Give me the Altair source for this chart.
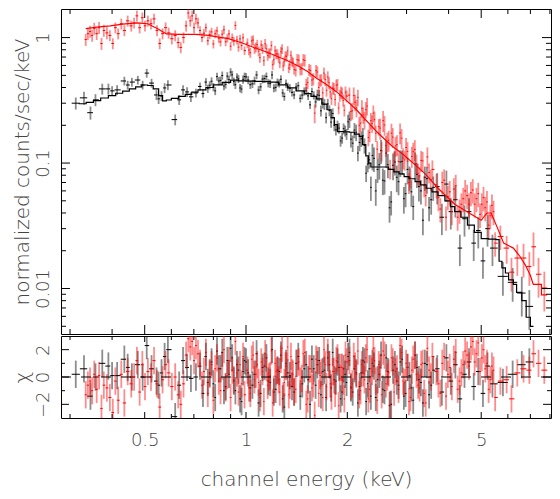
import numpy as np
import pandas as pd
import altair as alt

# ---------------- black spectrum ----------------
blk_energy = [0.312, 0.330, 0.345, 0.357, 0.374, 0.390, 0.400, 0.414, 0.435, 0.445, 0.458, 0.477, 0.493,
              0.507, 0.524, 0.542, 0.550, 0.561, 0.573, 0.586, 0.616, 0.633, 0.650, 0.668, 0.686, 0.710,
              0.73, 0.745, 0.76, 0.78, 0.80, 0.82, 0.84, 0.86, 0.88, 0.90, 0.92, 0.94, 0.96, 0.98, 1.00,
              1.03, 1.06, 1.09, 1.12, 1.15, 1.18, 1.21, 1.24, 1.27, 1.30, 1.33, 1.37, 1.41, 1.45, 1.49,
              1.53, 1.57,
              1.61, 1.65, 1.69, 1.73, 1.77, 1.81, 1.85, 1.89, 1.93, 1.97, 2.01, 2.05, 2.10, 2.15, 2.20,
              2.25, 2.30, 2.35, 2.40, 2.46, 2.52, 2.58, 2.64, 2.70, 2.77, 2.84, 2.91, 2.98, 3.06, 3.14,
              3.22, 3.31, 3.40, 3.50, 3.60,
              3.70, 3.82, 3.94, 4.06, 4.19, 4.32, 4.46, 4.60, 4.75, 4.90, 5.06, 5.22, 5.40,
              5.80, 6.20, 6.60, 6.95]
blk_flux = [0.300, 0.331, 0.252, 0.319, 0.390, 0.390, 0.376, 0.383, 0.451, 0.419, 0.442, 0.459, 0.419,
            0.521, 0.434, 0.349, 0.325, 0.343, 0.397, 0.419, 0.222, 0.319, 0.383, 0.369, 0.337, 0.362,
            0.408, 0.358, 0.442, 0.417, 0.404, 0.489, 0.456, 0.411, 0.493, 0.531, 0.446, 0.484, 0.397,
            0.464, 0.486, 0.421, 0.454, 0.382, 0.467, 0.490, 0.429, 0.396, 0.439, 0.465, 0.339, 0.406,
            0.366, 0.404, 0.328, 0.373, 0.343, 0.371,
            0.307, 0.347, 0.302, 0.230, 0.262, 0.248, 0.184, 0.190, 0.158, 0.181, 0.213, 0.155, 0.183,
            0.120, 0.156, 0.138, 0.098, 0.064, 0.109, 0.089, 0.126, 0.072, 0.097, 0.049, 0.102, 0.071,
            0.103, 0.057, 0.077, 0.045, 0.081, 0.060, 0.077, 0.044, 0.064,
            0.065, 0.037, 0.068, 0.041, 0.051, 0.021, 0.036, 0.041, 0.023, 0.029, 0.0166, 0.030, 0.021,
            0.0125, 0.0112, 0.0092, 0.0072]
blk_relerr = ([0.11, 0.12, 0.12, 0.11, 0.10, 0.10, 0.09, 0.09, 0.08, 0.08, 0.08, 0.08, 0.08,
               0.08, 0.08, 0.09, 0.09, 0.09, 0.09, 0.09, 0.10, 0.09, 0.09, 0.09, 0.09, 0.08]
              + [0.075] * 32 + [0.10] * 10 + [0.14] * 7 + [0.22] * 18 + [0.28] * 13
              + [0.30, 0.30, 0.35, 0.35])
blk_chi = [0.2, 0.6, -1.4, 0.0, 1.0, 0.8, 0.1, 0.1, 1.3, 0.7, 0.0, 0.9, 0.0, 2.3, 0.6, -0.3, -0.6, 0.3,
           1.5, 2.0, -2.9, -0.6, 1.2, 0.7, -0.1, 0.0,
           0.8, -1.2, 1.5, 0.3, -0.5, 1.9, 0.6, -1.0, 1.2, 2.1, -0.3, 0.9, -1.6, 0.4, 1.1, -0.8, 0.2,
           -1.9, 0.7, 1.4, -0.4, -1.1, 0.5, 1.6, -2.2, 0.3, -0.7, 1.0, -1.4, 0.6, -0.2, 1.3,
           -0.6, 1.2, 0.4, -1.5, 0.9, 1.8, -0.3, 0.7, -1.1, 0.2, 1.5, -0.8, 0.6, -1.9, 0.3, 1.1, -0.5,
           -1.4, 0.8, -0.2, 1.6, -1.0, 0.4, -2.0, 0.9, -0.6, 1.3, -1.2, 0.1, -1.7, 0.7, -0.4, 1.0,
           -1.3, 0.5,
           0.6, -1.1, 1.4, -0.3, 0.9, -1.6, 0.2, 1.1, -0.7, 0.4, -1.2, 0.8, -0.5,
           -0.4, 0.2, 0.9, 1.1]
# more black bins in the crowded 0.77-3.6 keV range
blk2_energy = [0.77, 0.79, 0.81, 0.83, 0.85, 0.87, 0.89, 0.91, 0.93, 0.95, 0.97, 0.99, 1.015, 1.045,
               1.075, 1.105, 1.135, 1.165, 1.195, 1.225, 1.255, 1.285, 1.315, 1.35, 1.39, 1.43, 1.47,
               1.51, 1.55, 1.59,
               1.63, 1.67, 1.71, 1.75, 1.79, 1.83, 1.87, 1.91, 1.95, 1.99, 2.03, 2.075, 2.125, 2.175,
               2.225, 2.275, 2.325, 2.375, 2.43, 2.49, 2.55, 2.61, 2.67, 2.735, 2.805, 2.875, 2.945,
               3.02, 3.10, 3.18, 3.265, 3.355, 3.45, 3.55]
blk2_flux = [0.392, 0.449, 0.376, 0.451, 0.499, 0.424, 0.462, 0.505, 0.421, 0.469, 0.389, 0.489, 0.459,
             0.428, 0.504, 0.405, 0.471, 0.433, 0.504, 0.401, 0.433, 0.362, 0.431, 0.395, 0.349, 0.413,
             0.348, 0.376, 0.291, 0.347,
             0.349, 0.261, 0.294, 0.296, 0.212, 0.199, 0.198, 0.150, 0.188, 0.170, 0.224, 0.144, 0.176,
             0.146, 0.165, 0.083, 0.106, 0.115, 0.060, 0.097, 0.073, 0.120, 0.044, 0.096, 0.077, 0.102,
             0.052, 0.089, 0.059, 0.098, 0.065, 0.035, 0.075, 0.051]
blk2_relerr = [0.075] * 30 + [0.10] * 10 + [0.15] * 7 + [0.24] * 17
blk2_chi = [-0.4, 1.1, -1.5, 0.6, 1.8, -0.7, 0.2, 1.4, -1.0, 0.5, -1.8, 1.2, 0.3, -0.6, 1.7, -1.2, 0.8,
            -0.3, 2.0, -0.9, 0.4, -1.6, 1.0, 0.1, -1.1, 1.5, -0.5, 0.9, -2.0, 0.6,
            0.9, -1.3, 0.5, 1.4, -0.8, -0.2, 1.1, -1.6, 0.6, -0.4, 1.8, -1.1, 0.3, -0.7, 1.2, -1.8, 0.6,
            1.0, -1.5, 0.2, -0.9, 1.4, -2.1, 0.5, -0.3, 1.1, -1.4, 0.7, -0.8, 1.6, -0.2, -1.9, 0.9, -0.6]

blk_model_energy = [0.318, 0.335, 0.352, 0.37, 0.39, 0.41, 0.43, 0.45, 0.47, 0.49, 0.51, 0.53, 0.55,
                    0.565, 0.58, 0.60, 0.63, 0.66, 0.69, 0.72, 0.76, 0.80, 0.85, 0.90, 0.95, 1.0, 1.06,
                    1.12, 1.18, 1.25, 1.33, 1.41, 1.49, 1.56, 1.62, 1.68, 1.74, 1.79, 1.83, 1.87, 1.95,
                    2.03, 2.10, 2.17, 2.22, 2.27, 2.31, 2.35, 2.45, 2.55, 2.65, 2.75, 2.85, 2.95, 3.05,
                    3.18, 3.3, 3.43, 3.57, 3.72, 3.9, 4.05, 4.17, 4.35, 4.55, 4.77, 5.0, 5.25, 5.53,
                    5.65, 5.76, 5.9, 6.03, 6.23, 6.37, 6.6, 6.8, 7.0, 7.15]
blk_model_flux = [0.297, 0.305, 0.315, 0.33, 0.345, 0.36, 0.375, 0.39, 0.405, 0.419, 0.415, 0.39, 0.345,
                  0.313, 0.318, 0.328, 0.34, 0.353, 0.367, 0.383, 0.40, 0.42, 0.44, 0.458, 0.452, 0.449,
                  0.447, 0.445, 0.442, 0.42, 0.397, 0.376, 0.357, 0.34, 0.325, 0.295, 0.266, 0.23,
                  0.203, 0.178, 0.177, 0.176, 0.17, 0.163, 0.14, 0.114, 0.10, 0.093, 0.093, 0.093,
                  0.089, 0.085, 0.082, 0.078, 0.075, 0.071, 0.067, 0.063, 0.059, 0.055, 0.050, 0.045,
                  0.041, 0.037, 0.032, 0.028, 0.025, 0.0248, 0.0245, 0.0165, 0.0146, 0.0133, 0.0117,
                  0.0108, 0.0093, 0.0080, 0.0059, 0.0050, 0.0050]

# ---------------- red spectrum ----------------
red_energy = [0.334, 0.339, 0.344, 0.349, 0.354, 0.360, 0.366, 0.372, 0.378, 0.386, 0.394, 0.402, 0.409,
              0.417, 0.426, 0.435, 0.445, 0.456, 0.465, 0.474, 0.483, 0.492, 0.501, 0.511, 0.522, 0.533,
              0.544, 0.554, 0.565, 0.577, 0.589, 0.602, 0.616, 0.629, 0.640, 0.652, 0.664, 0.674, 0.683,
              0.692, 0.701, 0.710, 0.720,
              0.73, 0.74, 0.75, 0.76, 0.77, 0.78, 0.79, 0.80, 0.81, 0.82, 0.83, 0.84, 0.85, 0.86, 0.87,
              0.88, 0.89, 0.90, 0.91, 0.92, 0.93, 0.94, 0.95, 0.96, 0.97, 0.98, 0.99,
              1.01, 1.03, 1.05, 1.07, 1.09, 1.11, 1.13, 1.15, 1.17, 1.19, 1.21, 1.23, 1.25, 1.27, 1.29,
              1.31, 1.33, 1.35, 1.37, 1.39, 1.42, 1.45, 1.48, 1.51, 1.54, 1.57, 1.60, 1.63, 1.66, 1.69,
              1.72, 1.75, 1.78, 1.81, 1.84, 1.87, 1.90, 1.93, 1.96, 1.99,
              2.03, 2.07, 2.11, 2.15, 2.19, 2.23, 2.27, 2.31, 2.35, 2.39, 2.43, 2.48, 2.53, 2.58, 2.63,
              2.68, 2.73, 2.78, 2.84, 2.90, 2.96, 3.02, 3.08, 3.14, 3.21, 3.28, 3.35, 3.42, 3.50, 3.58,
              3.68, 3.78, 3.88, 3.98, 4.09, 4.20, 4.31, 4.42, 4.54, 4.66, 4.78, 4.90, 5.02, 5.14, 5.26,
              5.38, 5.50,
              5.70, 5.95, 6.15, 6.40, 6.68, 6.95, 7.15, 7.40, 7.70]
red_flux = [0.965, 1.075, 1.12, 1.04, 1.18, 1.075, 1.20, 0.897, 1.14, 1.09, 1.04, 0.897, 1.20, 1.075,
            1.29, 1.14, 1.36, 1.24, 1.31, 1.49, 1.20, 1.44, 1.24, 1.36, 1.29, 1.41, 1.14, 0.897, 1.075,
            1.20, 1.09, 0.98, 1.04, 0.913, 0.835, 1.0, 1.24, 1.57, 1.36, 1.49, 1.20, 1.41, 1.31,
            1.139, 1.001, 1.084, 1.198, 0.944, 1.057, 1.110, 0.890, 1.073, 1.131, 0.986, 0.925, 1.064,
            1.154, 0.927, 0.991, 1.071, 0.854, 0.998, 0.935, 1.25, 0.957, 0.839, 0.976, 0.864, 0.997,
            0.788,
            0.904, 0.758, 0.956, 0.838, 0.779, 0.873, 0.654, 0.814, 0.752, 0.864, 0.667, 0.740, 0.689,
            0.771, 0.593, 0.714, 0.783, 0.607, 0.647, 0.557, 0.666, 0.561, 0.665, 0.421, 0.554, 0.459,
            0.25, 0.532, 0.457, 0.363, 0.462, 0.485, 0.369, 0.397, 0.321, 0.421, 0.346, 0.361, 0.264,
            0.342,
            0.348, 0.261, 0.305, 0.334, 0.208, 0.242, 0.266, 0.160, 0.218, 0.250, 0.173, 0.195, 0.125,
            0.201, 0.148, 0.090, 0.161, 0.137, 0.103, 0.158, 0.106, 0.124, 0.077, 0.123, 0.099, 0.079,
            0.104, 0.055, 0.084, 0.089,
            0.067, 0.043, 0.073, 0.054, 0.041, 0.066, 0.042, 0.052, 0.055, 0.058, 0.047, 0.057, 0.047,
            0.044, 0.032, 0.046, 0.023,
            0.026, 0.021, 0.0135, 0.0175, 0.0175, 0.0150, 0.0215, 0.0130, 0.0101]
red_relerr = ([0.11] * 10 + [0.10] * 33 + [0.08] * 27 + [0.09] * 20 + [0.11] * 6 + [0.17]
              + [0.11] * 13 + [0.15] * 12 + [0.18] * 18 + [0.22] * 17
              + [0.22, 0.25, 0.30, 0.28, 0.30, 0.30, 0.30, 0.35, 0.35])
red_chi = [-1.3, -0.6, -0.3, -1.0, 0.2, -0.9, 0.1, -2.3, -0.6, -0.8, -1.5, -2.6, -0.3, -1.7, 0.2, -1.9,
           0.4, -0.5, 0.0, 1.2, -1.1, 0.9, -0.7, 0.4, 0.0, 1.2, -0.5, -2.2, -0.2, 0.9, 0.3, -0.7, 0.0,
           -1.3, -2.0, -0.5, 1.6, 2.8, 2.2, 2.6, 1.2, 2.3, 1.7,
           1.0, -0.6, 0.4, 1.8, -1.2, 0.2, 0.9, -1.7, 0.6, 1.4, -0.3, -1.0, 0.8, 2.0, -0.8, 0.1, 1.2,
           -1.5, 0.5, -0.2, 2.6, 0.3, -1.1, 0.9, -0.5, 1.5, -1.3,
           0.5, -1.2, 1.6, 0.2, -0.4, 1.1, -1.8, 0.7, 0.0, 1.9, -0.9, 0.4, -0.2, 1.3, -1.4, 0.8, 2.2,
           -0.6, 0.3, -1.1, 1.0, -0.3, 1.7, -2.0, 0.6, -0.8, -2.8, 1.2, 0.1, -1.5, 0.9, 1.8, -0.5, 0.4,
           -1.2, 1.4, -0.1, 0.7, -1.6, 1.1,
           1.2, -0.5, 0.8, 1.9, -1.0, 0.3, 1.4, -1.6, 0.6, 2.1, -0.3, 0.9, -1.3, 1.6, 0.0, -2.0, 1.1,
           0.4, -0.9, 1.8, -0.4, 0.7, -1.5, 1.3, 0.2, -0.8, 1.0, -1.9, 0.5, 1.5,
           0.4, -1.2, 1.5, 0.2, -0.7, 1.8, -0.3, 0.9, 1.6, 2.2, 1.1, 2.5, 1.4, 0.6, -0.9, 0.8, -1.5,
           -0.3, -0.2, -1.6, 0.3, 0.6, 0.5, 1.7, 1.0, 0.5]
# more red bins in the crowded 1-5.5 keV range
red2_energy = [1.02, 1.04, 1.06, 1.08, 1.10, 1.12, 1.14, 1.16, 1.18, 1.20, 1.22, 1.24, 1.26, 1.28,
               1.30, 1.32, 1.34, 1.36, 1.38,
               1.405, 1.435, 1.465, 1.495, 1.525, 1.555, 1.585, 1.615, 1.645, 1.675, 1.705, 1.735,
               1.765, 1.795, 1.825, 1.855, 1.885, 1.915, 1.945, 1.975,
               2.05, 2.09, 2.13, 2.17, 2.21, 2.25, 2.29, 2.33, 2.37, 2.41, 2.455, 2.505, 2.555, 2.605,
               2.655, 2.705, 2.755, 2.81, 2.87, 2.93, 2.99, 3.05, 3.11, 3.175, 3.245, 3.315, 3.385,
               3.46, 3.54,
               3.73, 3.83, 3.93, 4.03, 4.145, 4.255, 4.365, 4.48, 4.60, 4.72, 4.84, 4.96, 5.08, 5.20,
               5.32, 5.44]
red2_flux = [0.795, 0.942, 0.815, 0.881, 0.693, 0.815, 0.894, 0.718, 0.752, 0.607, 0.785, 0.740, 0.627,
             0.813, 0.648, 0.708, 0.572, 0.722, 0.635,
             0.550, 0.661, 0.564, 0.659, 0.437, 0.546, 0.468, 0.546, 0.400, 0.459, 0.521, 0.380, 0.436,
             0.326, 0.392, 0.417, 0.275, 0.368, 0.316, 0.367,
             0.258, 0.345, 0.275, 0.200, 0.273, 0.220, 0.285, 0.175, 0.207, 0.222, 0.129, 0.190, 0.218,
             0.138, 0.152, 0.173, 0.104, 0.140, 0.174, 0.110, 0.133, 0.070, 0.113, 0.128, 0.083, 0.105,
             0.066, 0.112, 0.074,
             0.053, 0.070, 0.037, 0.059, 0.062, 0.037, 0.047, 0.060, 0.047, 0.061, 0.052, 0.039, 0.053,
             0.049, 0.038, 0.041]
red2_relerr = [0.09] * 19 + [0.11] * 20 + [0.16] * 11 + [0.19] * 18 + [0.22] * 16
red2_chi = [-0.8, 1.3, -0.2, 0.9, -1.5, 0.4, 1.7, -0.6, 0.1, -1.9, 1.0, 0.5, -1.1, 2.1, -0.4, 0.8, -1.3,
            1.5, 0.2, -0.9, 1.1, -0.1, 1.8, -1.6, 0.6, -0.5, 1.3, -1.2, 0.3, 2.0, -0.7, 0.9, -1.4, 0.4,
            1.2, -2.1, 0.7, -0.3, 1.6,
            -0.7, 1.5, 0.2, -1.3, 0.9, -0.2, 2.0, -0.9, 0.4, 1.2, -1.7, 0.7, 1.9, -0.5, 0.3, 1.4, -1.1,
            0.6, 2.3, -0.3, 1.0, -1.8, 0.5, 1.6, -0.6, 0.9, -1.2, 2.1, 0.0,
            -0.5, 1.0, -1.4, 0.7, 1.3, -0.9, 0.3, 1.9, 0.8, 2.6, 1.7, 0.4, 2.0, 1.0, -0.2, 0.5]

red_model_energy = [0.334, 0.36, 0.395, 0.43, 0.474, 0.51, 0.545, 0.58, 0.633, 0.71, 0.774, 0.83, 0.886,
                    0.97, 1.06, 1.14, 1.22, 1.32, 1.42, 1.52, 1.62, 1.74, 1.86, 2.0, 2.13, 2.22, 2.32,
                    2.43, 2.55, 2.72, 2.92, 3.15, 3.41, 3.72, 4.17, 4.67, 5.0, 5.2, 5.35, 5.57, 5.83,
                    6.23, 6.52, 6.77, 7.0, 7.14, 7.55, 7.55, 7.85]
red_model_flux = [1.18, 1.21, 1.24, 1.28, 1.31, 1.29, 1.18, 1.07, 1.06, 1.06, 1.04, 1.01, 0.98, 0.91,
                  0.83, 0.775, 0.72, 0.66, 0.60, 0.54, 0.475, 0.42, 0.369, 0.31, 0.266, 0.235, 0.207,
                  0.181, 0.160, 0.136, 0.118, 0.099, 0.082, 0.063, 0.047, 0.039, 0.035, 0.040, 0.040,
                  0.031, 0.023, 0.021, 0.018, 0.0153, 0.0127, 0.0108, 0.0108, 0.0089, 0.0089]

# ---------------- axes ----------------
x_domain = [0.282, 8.06]
y_domain = [0.00434, 1.69]
chi_domain = [-3, 3]
x_major = [0.5, 1, 2, 5]
x_minor = [0.3, 0.4, 0.6, 0.7, 0.8, 0.9, 3, 4, 6, 7, 8]
y_major = [0.01, 0.1, 1]
y_minor = [0.005, 0.006, 0.007, 0.008, 0.009, 0.02, 0.03, 0.04, 0.05, 0.06, 0.07, 0.08, 0.09,
           0.2, 0.3, 0.4, 0.5, 0.6, 0.7, 0.8, 0.9]
chi_major = [-2, 0, 2]
chi_minor = [-1, 1]

W, H1, H2 = 490, 325, 82
RED = "#ff0000"
TXT = "#444444"
FONT = "DejaVu Sans"
FW = 300


def spectrum(energy, flux, rel, chi):
    e = np.array(energy, float)
    order = np.argsort(e, kind="stable")
    e = e[order]
    f = np.array(flux, float)[order]
    r = np.array(rel, float)[order]
    c = np.array(chi, float)[order]
    le = np.log10(e)
    mid = (le[:-1] + le[1:]) / 2
    lo = 10 ** np.r_[le[0] - (le[1] - le[0]) / 2, mid]
    hi = 10 ** np.r_[mid, le[-1] + (le[-1] - le[-2]) / 2]
    return pd.DataFrame({"E": e, "Elo": lo, "Ehi": hi, "F": f, "Flo": f * (1 - r), "Fhi": f * (1 + r),
                         "chi": c, "clo": c - 1, "chi_hi": c + 1})


blk = spectrum(blk_energy + blk2_energy, blk_flux + blk2_flux, blk_relerr + blk2_relerr,
               blk_chi + blk2_chi)
red = spectrum(red_energy + red2_energy, red_flux + red2_flux, red_relerr + red2_relerr,
               red_chi + red2_chi)
blk_model = pd.DataFrame({"E": blk_model_energy, "F": blk_model_flux})
red_model = pd.DataFrame({"E": red_model_energy, "F": red_model_flux,
                          "i": range(len(red_model_energy))})

xs = alt.Scale(type="log", domain=x_domain, nice=False)
ys = alt.Scale(type="log", domain=y_domain, nice=False)
cs = alt.Scale(domain=chi_domain, nice=False, zero=False)

common = dict(ticks=False, domain=False, grid=False, labelFontSize=18, labelColor=TXT, labelFont=FONT,
              labelFontWeight=FW, titleFontSize=20, titleFontWeight=FW, titleColor=TXT, titleFont=FONT)
y_axis = alt.Axis(values=y_major, format="~g", labelAngle=270, labelAlign="center",
                  labelBaseline="alphabetic", labelPadding=13,
                  title="normalized counts/sec/keV", titleAngle=270, titleX=-33, titleY=H1 / 2,
                  titleAlign="center", titleBaseline="alphabetic", **common)
chi_axis = alt.Axis(values=chi_major, format="~g", labelAngle=270, labelAlign="center",
                    labelBaseline="alphabetic", labelPadding=13,
                    title="χ", titleAngle=270, titleX=-33, titleY=H2 / 2,
                    titleAlign="center", titleBaseline="alphabetic", **common)
x_axis = alt.Axis(values=x_major, format="~g", labelAngle=0, labelAlign="center",
                  labelBaseline="alphabetic", labelPadding=27,
                  title="channel energy (keV)", titleX=W / 2, titleY=67, titleAlign="center",
                  titleBaseline="alphabetic", **common)


# --- main panel ---
def top_layers():
    L = []
    for df, col in ((blk, "black"), (red, RED)):
        L.append(alt.Chart(df).mark_rule(color=col, opacity=0.45, strokeWidth=1.8, clip=True).encode(
            x=alt.X("E:Q", scale=xs, axis=None), y=alt.Y("Flo:Q", scale=ys, axis=y_axis), y2="Fhi:Q"))
        L.append(alt.Chart(df).mark_rule(color=col, strokeWidth=1, clip=True).encode(
            x=alt.X("Elo:Q", scale=xs, axis=None), x2="Ehi:Q", y=alt.Y("F:Q", scale=ys, axis=y_axis)))
    L.append(alt.Chart(blk_model).mark_line(color="black", strokeWidth=1.2, interpolate="step-after",
                                            clip=True).encode(
        x=alt.X("E:Q", scale=xs, axis=None), y=alt.Y("F:Q", scale=ys, axis=y_axis)))
    L.append(alt.Chart(red_model).mark_line(color=RED, strokeWidth=1.2, clip=True).encode(
        x=alt.X("E:Q", scale=xs, axis=None), y=alt.Y("F:Q", scale=ys, axis=y_axis), order="i:Q"))
    for vals, ln in ((x_major, 9), (x_minor, 5)):
        d = pd.DataFrame({"v": vals})
        L.append(alt.Chart(d).mark_rule(color="black").encode(
            x=alt.X("v:Q", scale=xs, axis=None), y=alt.value(0), y2=alt.value(ln)))
        L.append(alt.Chart(d).mark_rule(color="black").encode(
            x=alt.X("v:Q", scale=xs, axis=None), y=alt.value(H1), y2=alt.value(H1 - ln)))
    for vals, ln in ((y_major, 9), (y_minor, 5)):
        d = pd.DataFrame({"v": vals})
        L.append(alt.Chart(d).mark_rule(color="black").encode(
            y=alt.Y("v:Q", scale=ys, axis=y_axis), x=alt.value(0), x2=alt.value(ln)))
        L.append(alt.Chart(d).mark_rule(color="black").encode(
            y=alt.Y("v:Q", scale=ys, axis=y_axis), x=alt.value(W), x2=alt.value(W - ln)))
    return L


def bottom_layers():
    L = []
    for df, col in ((blk, "black"), (red, RED)):
        L.append(alt.Chart(df).mark_rule(color=col, opacity=0.45, strokeWidth=1.8, clip=True).encode(
            x=alt.X("E:Q", scale=xs, axis=x_axis), y=alt.Y("clo:Q", scale=cs, axis=chi_axis),
            y2="chi_hi:Q"))
        L.append(alt.Chart(df).mark_rule(color=col, strokeWidth=1, clip=True).encode(
            x=alt.X("Elo:Q", scale=xs, axis=x_axis), x2="Ehi:Q",
            y=alt.Y("chi:Q", scale=cs, axis=chi_axis)))
    L.append(alt.Chart(pd.DataFrame({"z": [0]})).mark_rule(color="black", strokeDash=[10, 10]).encode(
        y=alt.Y("z:Q", scale=cs, axis=chi_axis), x=alt.value(0), x2=alt.value(W)))
    for vals, ln in ((x_major, 6), (x_minor, 4)):
        d = pd.DataFrame({"v": vals})
        L.append(alt.Chart(d).mark_rule(color="black").encode(
            x=alt.X("v:Q", scale=xs, axis=x_axis), y=alt.value(0), y2=alt.value(ln)))
        L.append(alt.Chart(d).mark_rule(color="black").encode(
            x=alt.X("v:Q", scale=xs, axis=x_axis), y=alt.value(H2), y2=alt.value(H2 - ln)))
    for vals, ln in ((chi_major, 8), (chi_minor, 4)):
        d = pd.DataFrame({"v": vals})
        L.append(alt.Chart(d).mark_rule(color="black").encode(
            y=alt.Y("v:Q", scale=cs, axis=chi_axis), x=alt.value(0), x2=alt.value(ln)))
        L.append(alt.Chart(d).mark_rule(color="black").encode(
            y=alt.Y("v:Q", scale=cs, axis=chi_axis), x=alt.value(W), x2=alt.value(W - ln)))
    return L


top = alt.layer(*top_layers()).properties(width=W, height=H1)
bottom = alt.layer(*bottom_layers()).properties(width=W, height=H2)

chart = alt.vconcat(top, bottom, spacing=0).properties(
    padding={"left": 3, "top": 0, "right": 0, "bottom": 0}
).configure(font=FONT).configure_view(stroke="black", strokeWidth=1)

chart.save("out.html", embed_options={"renderer": "svg", "actions": False})
